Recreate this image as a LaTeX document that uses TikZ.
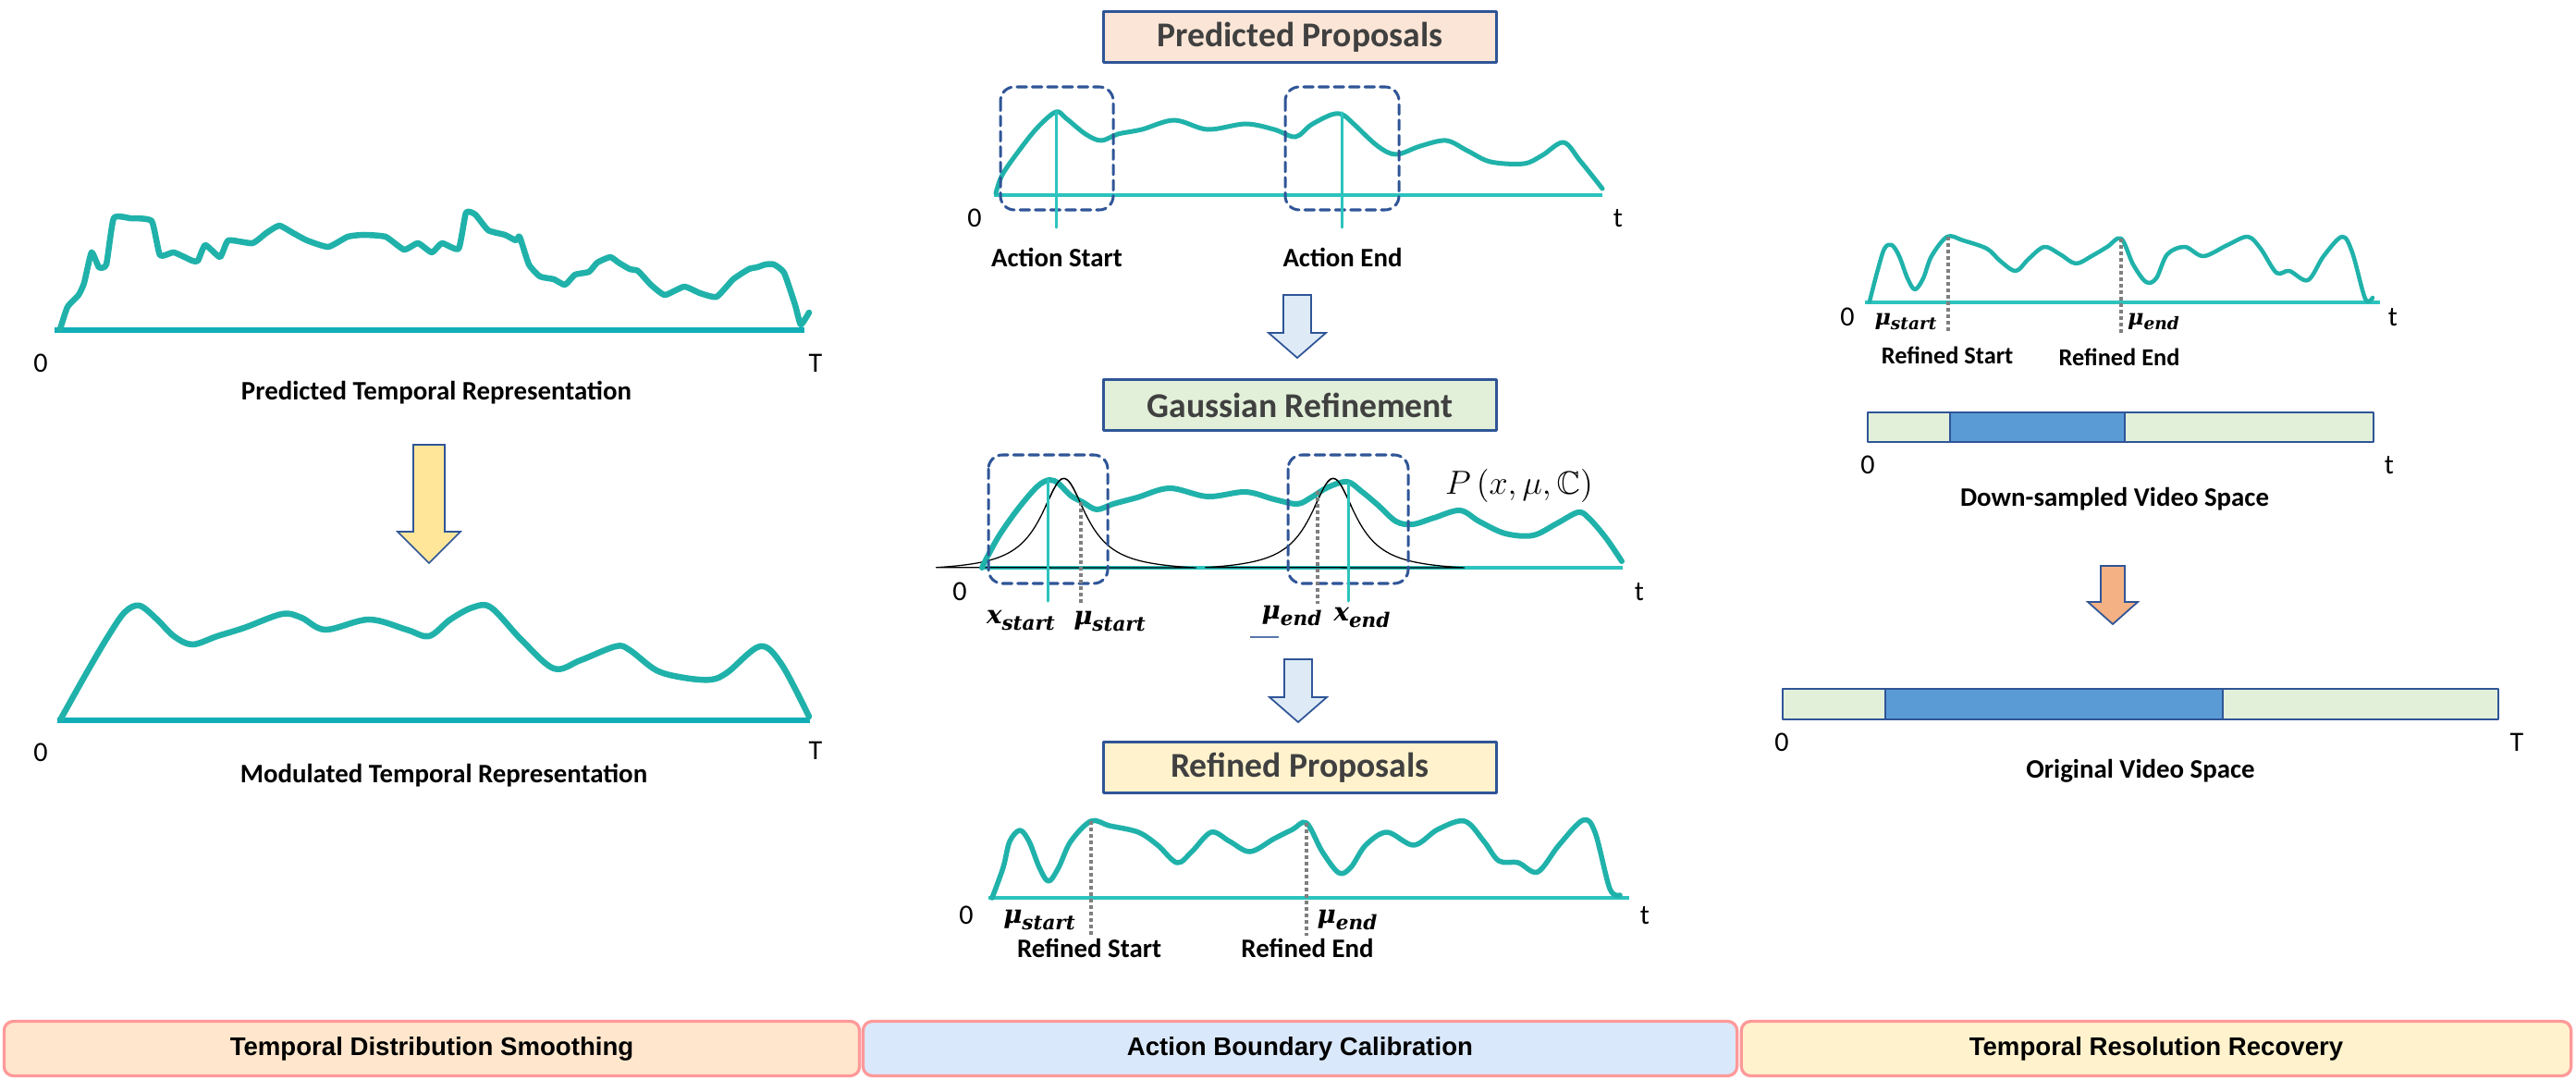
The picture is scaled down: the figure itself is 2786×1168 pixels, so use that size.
\documentclass[tikz,border=0pt]{standalone}
\usepackage{fontspec}
\usepackage{amsmath,amssymb,graphicx}
\setmainfont{Carlito}
\newfontfamily\helvfont{Liberation Sans}
\newfontfamily\varfont{DejaVu Serif}
\newcommand{\varsub}[2]{#1\raisebox{-0.45ex}{\scalebox{0.78}{#2}}}

\definecolor{curveteal}{HTML}{20B2AA}
\definecolor{axisteal}{HTML}{2CC3BE}
\definecolor{axiscyan}{HTML}{12AEB8}
\definecolor{boxblue}{HTML}{2F5597}
\definecolor{peachfill}{HTML}{FBE5D6}
\definecolor{greenfill}{HTML}{E2F0D9}
\definecolor{yellowfill}{HTML}{FFF2CC}
\definecolor{arrowblue}{HTML}{DEEBF7}
\definecolor{arrowyellow}{HTML}{FFE699}
\definecolor{arroworange}{HTML}{F4B183}
\definecolor{segblue}{HTML}{5B9BD5}
\definecolor{titlegray}{HTML}{404040}
\definecolor{dotgray}{HTML}{7F7F7F}
\definecolor{barpink}{HTML}{FF9999}
\definecolor{barpeach}{HTML}{FFE6CC}
\definecolor{barblue}{HTML}{DAE8FC}
\definecolor{baryellow}{HTML}{FFF2CC}

\begin{document}
\begin{tikzpicture}[x=0.014cm,y=-0.014cm,line join=round,line cap=round,
  sigline/.style={curveteal,line width=2pt},
  baseln/.style={axisteal,line width=1.6pt,line cap=butt},
  dashbox/.style={boxblue,line width=1.2pt,dash pattern=on 4.2pt off 2.4pt,rounded corners=6pt},
  stemln/.style={axisteal,line width=1.2pt},
  dotln/.style={dotgray,line width=1.4pt,dash pattern=on 1.4pt off 1.4pt,line cap=butt},
  titlebox/.style={draw=boxblue,line width=0.9pt,minimum width=5.95cm,minimum height=0.77cm,
    inner sep=0pt,text=titlegray,font=\fontsize{15}{18}\selectfont\bfseries},
  lbl/.style={font=\fontsize{11.5}{14}\selectfont\bfseries},
  smalllbl/.style={font=\fontsize{10.5}{12}\selectfont\bfseries},
  ticklbl/.style={font=\fontsize{12}{14}\selectfont},
  mlbl/.style={font=\varfont\bfseries\itshape\fontsize{11}{13}\selectfont},
  smallmlbl/.style={font=\varfont\bfseries\itshape\fontsize{9.5}{11}\selectfont},
  pdflbl/.style={font=\fontsize{14}{16}\selectfont},
  blkarrow/.style={draw=boxblue,line width=0.7pt,line join=miter},
  segbar/.style={draw=boxblue,line width=0.9pt},
  stagebox/.style={draw=barpink,line width=1.3pt,rounded corners=4pt,minimum height=0.826cm,
    inner sep=0pt,font=\helvfont\bfseries\fontsize{11}{13}\selectfont}]
  \useasboundingbox (0,0) rectangle (2786,1168);

  % 左列：预测的时序表示
  \draw[axiscyan,line width=2pt,line cap=butt] (59,357) -- (870,357);
  \draw[sigline,line width=2.6pt] plot[smooth,tension=0.3] coordinates {(65,356) (73,332) (85,319) (91,306)
    (99,273) (107,289) (115,286) (123,236) (141,236) (164,239) (173,276) (188,273) (208,282) (214,282)
    (222,265) (238,278) (247,260) (273,263) (288,252) (302,244) (317,252) (332,260) (355,267) (376,256)
    (393,254) (417,256) (437,270) (452,263) (467,273) (478,263) (496,269) (504,230) (514,232) (528,249)
    (546,254) (558,260) (562,256) (572,286) (584,299) (599,302) (611,308) (622,297) (637,294) (646,284)
    (660,278) (669,284) (681,291) (690,293) (704,308) (719,319) (740,310) (757,317) (775,321) (793,302)
    (810,291) (819,289) (828,286) (837,286) (848,295) (860,330) (866,351) (875,338)};
  \node[ticklbl] (l0a) at (44,393) {0};
  \node[ticklbl] (lTa) at (882,393) {T};
  \node[lbl] (ptr) at (472,425) {Predicted Temporal Representation};

  \draw[blkarrow,fill=arrowyellow,shift={(464,481)}] (-17,0) -- (17,0) -- (17,94) -- (34,94)
    -- (0,128) -- (-34,94) -- (-17,94) -- cycle;

  % 左列：调制后的时序表示
  \draw[axiscyan,line width=2pt,line cap=butt] (62,779) -- (876,779);
  \draw[sigline,line width=2.6pt] plot[smooth,tension=0.55] coordinates {(66,777) (94,727) (117,688)
    (135,662) (151,655) (170,670) (188,688) (208,697) (235,688) (264,679) (305,664) (326,668) (352,681)
    (399,670) (440,681) (464,688) (487,670) (511,657) (531,657) (564,692) (599,723) (628,714) (666,699)
    (681,703) (710,725) (740,733) (769,735) (787,727) (822,699) (845,718) (875,775)};
  \node[ticklbl] (l0b) at (44,814) {0};
  \node[ticklbl] (lTb) at (882,812) {T};
  \node[lbl] (mtr) at (480,839) {Modulated Temporal Representation};

  % 中列：预测提案
  \node[titlebox,fill=peachfill] (pp) at (1406,40) {Predicted Proposals};
  \draw[baseln] (1075,211) -- (1733,211);
  \draw[sigline] plot[smooth,tension=0.55] coordinates {(1077,209) (1084,189) (1102,163) (1122,138)
    (1142,121) (1153,128) (1174,145) (1191,152) (1209,145) (1235,140) (1270,130) (1306,140) (1347,134)
    (1378,140) (1401,148) (1418,135) (1440,124) (1452,124) (1464,134) (1490,158) (1510,167) (1536,158)
    (1564,152) (1587,163) (1612,175) (1648,177) (1668,168) (1691,154) (1709,174) (1733,204)};
  \draw[dashbox] (1082,94) rectangle (1204,227);
  \draw[dashbox] (1390,94) rectangle (1513,227);
  \draw[stemln] (1142,121) -- (1142,246);
  \draw[stemln] (1451,122) -- (1451,246);
  \node[ticklbl] (m0a) at (1054,236) {0};
  \node[ticklbl] (mta) at (1750,236) {t};
  \node[lbl] (as) at (1143,278) {Action Start};
  \node[lbl] (ae) at (1452,278) {Action End};

  \draw[blkarrow,fill=arrowblue,shift={(1403,319)}] (-15,0) -- (15,0) -- (15,41) -- (31,41)
    -- (0,68) -- (-31,41) -- (-15,41) -- cycle;

  % 中列：高斯细化
  \node[titlebox,fill=greenfill] (gr) at (1406,438) {Gaussian Refinement};
  \draw[baseln] (1061,614) -- (1755,614);
  \draw[black,line width=0.5pt] plot[domain=-138:143,samples=90]
    ({1150.5+\x},{614-101/(1+(\x/30)*(\x/30))+4.3}) -- cycle;
  \draw[black,line width=0.5pt] plot[domain=-138:142,samples=90]
    ({1441.8+\x},{614-101/(1+(\x/30)*(\x/30))+4.3}) -- cycle;
  \draw[sigline,line width=2.4pt] plot[smooth,tension=0.55] coordinates {(1062,614) (1069,600) (1082,577)
    (1102,549) (1122,526) (1135,519) (1145,523) (1158,536) (1171,543) (1186,551) (1204,545) (1230,538)
    (1265,528) (1306,537) (1347,532) (1378,540) (1403,545) (1418,538) (1436,527) (1457,521) (1472,531)
    (1490,546) (1510,564) (1528,567) (1551,560) (1579,552) (1600,564) (1628,577) (1658,579) (1684,566)
    (1707,554) (1719,561) (1737,582) (1754,607)};
  \draw[black,line width=0.5pt] plot[domain=-20:20,samples=20]
    ({1150.5+\x},{614-101/(1+(\x/30)*(\x/30))+4.3});
  \draw[black,line width=0.5pt] plot[domain=-20:20,samples=20]
    ({1441.8+\x},{614-101/(1+(\x/30)*(\x/30))+4.3});
  \draw[dashbox] (1069,492) rectangle (1198,631);
  \draw[dashbox] (1393,492) rectangle (1523,631);
  \draw[stemln] (1133,519) -- (1133,650);
  \draw[stemln] (1458,523) -- (1458,650);
  \draw[dotln] (1169,543) -- (1169,653);
  \draw[dotln] (1425,531) -- (1425,653);
  \node[ticklbl] (m0b) at (1038,640) {0};
  \node[ticklbl] (mtb) at (1773,640) {t};
  \node[pdflbl] (pdf) at (1643,525) {$P\,(x,\mu,\mathbb{C})$};
  \node[mlbl] (xs) at (1104,671) {\varsub{x}{start}};
  \node[mlbl] (mus) at (1200,672) {\varsub{μ}{start}};
  \node[mlbl] (mue) at (1397,666) {\varsub{μ}{end}};
  \node[mlbl] (xe) at (1473,668) {\varsub{x}{end}};
  \draw[boxblue!80,line width=0.8pt,line cap=butt] (1352,689) -- (1383,689);

  \draw[blkarrow,fill=arrowblue,shift={(1404,713)}] (-15,0) -- (15,0) -- (15,41) -- (31,41)
    -- (0,68) -- (-31,41) -- (-15,41) -- cycle;

  % 中列：细化后的提案
  \node[titlebox,fill=yellowfill] (rp) at (1406,830) {Refined Proposals};
  \draw[baseln] (1069,971) -- (1762,971);
  \draw[sigline,line width=2.2pt] plot[smooth,tension=0.55] coordinates {(1073,971) (1085,938) (1092,910)
    (1103,898) (1113,910) (1124,938) (1134,953) (1145,938) (1158,910) (1180,888) (1200,893) (1231,900)
    (1252,914) (1273,933) (1289,921) (1310,900) (1330,910) (1352,921) (1378,907) (1398,897) (1413,890)
    (1430,921) (1448,944) (1461,938) (1477,914) (1500,900) (1529,914) (1555,897) (1584,888) (1605,910)
    (1621,931) (1642,933) (1663,943) (1686,914) (1712,887) (1725,900) (1741,961) (1752,968)};
  \draw[dotln] (1180,888) -- (1180,1012);
  \draw[dotln] (1413,890) -- (1413,1012);
  \node[ticklbl] (m0c) at (1045,990) {0};
  \node[ticklbl] (mtc) at (1779,990) {t};
  \node[mlbl] (mus2) at (1124,995) {\varsub{μ}{start}};
  \node[mlbl] (mue2) at (1457,995) {\varsub{μ}{end}};
  \node[lbl] (rs) at (1178,1025) {Refined Start};
  \node[lbl] (re) at (1414,1025) {Refined End};

  % 右列：下采样视频空间
  \draw[baseln] (2017,327) -- (2574,327);
  \draw[sigline,line width=1.8pt] plot[smooth,tension=0.55] coordinates {(2022,326) (2030,295) (2038,269)
    (2046,265) (2054,277) (2063,301) (2071,313) (2080,301) (2089,277) (2106,256) (2123,260) (2149,269)
    (2163,282) (2180,293) (2194,280) (2211,267) (2228,275) (2245,285) (2262,277) (2279,267) (2294,258)
    (2307,286) (2321,305) (2332,301) (2344,275) (2363,267) (2383,277) (2409,265) (2431,256) (2445,269)
    (2462,295) (2476,293) (2496,303) (2513,277) (2533,256) (2544,273) (2558,323) (2566,322)};
  \draw[dotln] (2107,256) -- (2107,361);
  \draw[dotln] (2294,258) -- (2294,361);
  \node[ticklbl] (r0a) at (1998,343) {0};
  \node[ticklbl] (rta) at (2588,343) {t};
  \node[smallmlbl] (mus3) at (2061,348) {\varsub{μ}{start}};
  \node[smallmlbl] (mue3) at (2329,348) {\varsub{μ}{end}};
  \node[smalllbl] (rs2) at (2106,384) {Refined Start};
  \node[smalllbl] (re2) at (2292,386) {Refined End};

  \draw[segbar,fill=greenfill] (2020,446) rectangle (2567,478);
  \draw[segbar,fill=segblue] (2109,446) rectangle (2298,478);
  \node[ticklbl] (r0b) at (2020,503) {0};
  \node[ticklbl] (rtb) at (2584,503) {t};
  \node[lbl] (dvs) at (2287,540) {Down-sampled Video Space};

  \draw[blkarrow,fill=arroworange,shift={(2285,612)}] (-13,0) -- (13,0) -- (13,39) -- (27,39)
    -- (0,63) -- (-27,39) -- (-13,39) -- cycle;

  % 右列：原始视频空间
  \draw[segbar,fill=greenfill] (1928,745) rectangle (2702,778);
  \draw[segbar,fill=segblue] (2039,745) rectangle (2404,778);
  \node[ticklbl] (r0c) at (1927,803) {0};
  \node[ticklbl] (rTc) at (2722,803) {T};
  \node[lbl] (ovs) at (2315,834) {Original Video Space};

  % 底部阶段条
  \node[stagebox,fill=barpeach,minimum width=12.96cm] (tds) at (467,1134) {Temporal Distribution Smoothing};
  \node[stagebox,fill=barblue,minimum width=13.24cm] (abc) at (1406,1134) {Action Boundary Calibration};
  \node[stagebox,fill=baryellow,minimum width=12.57cm] (trr) at (2332,1134) {Temporal Resolution Recovery};
\end{tikzpicture}
\end{document}
